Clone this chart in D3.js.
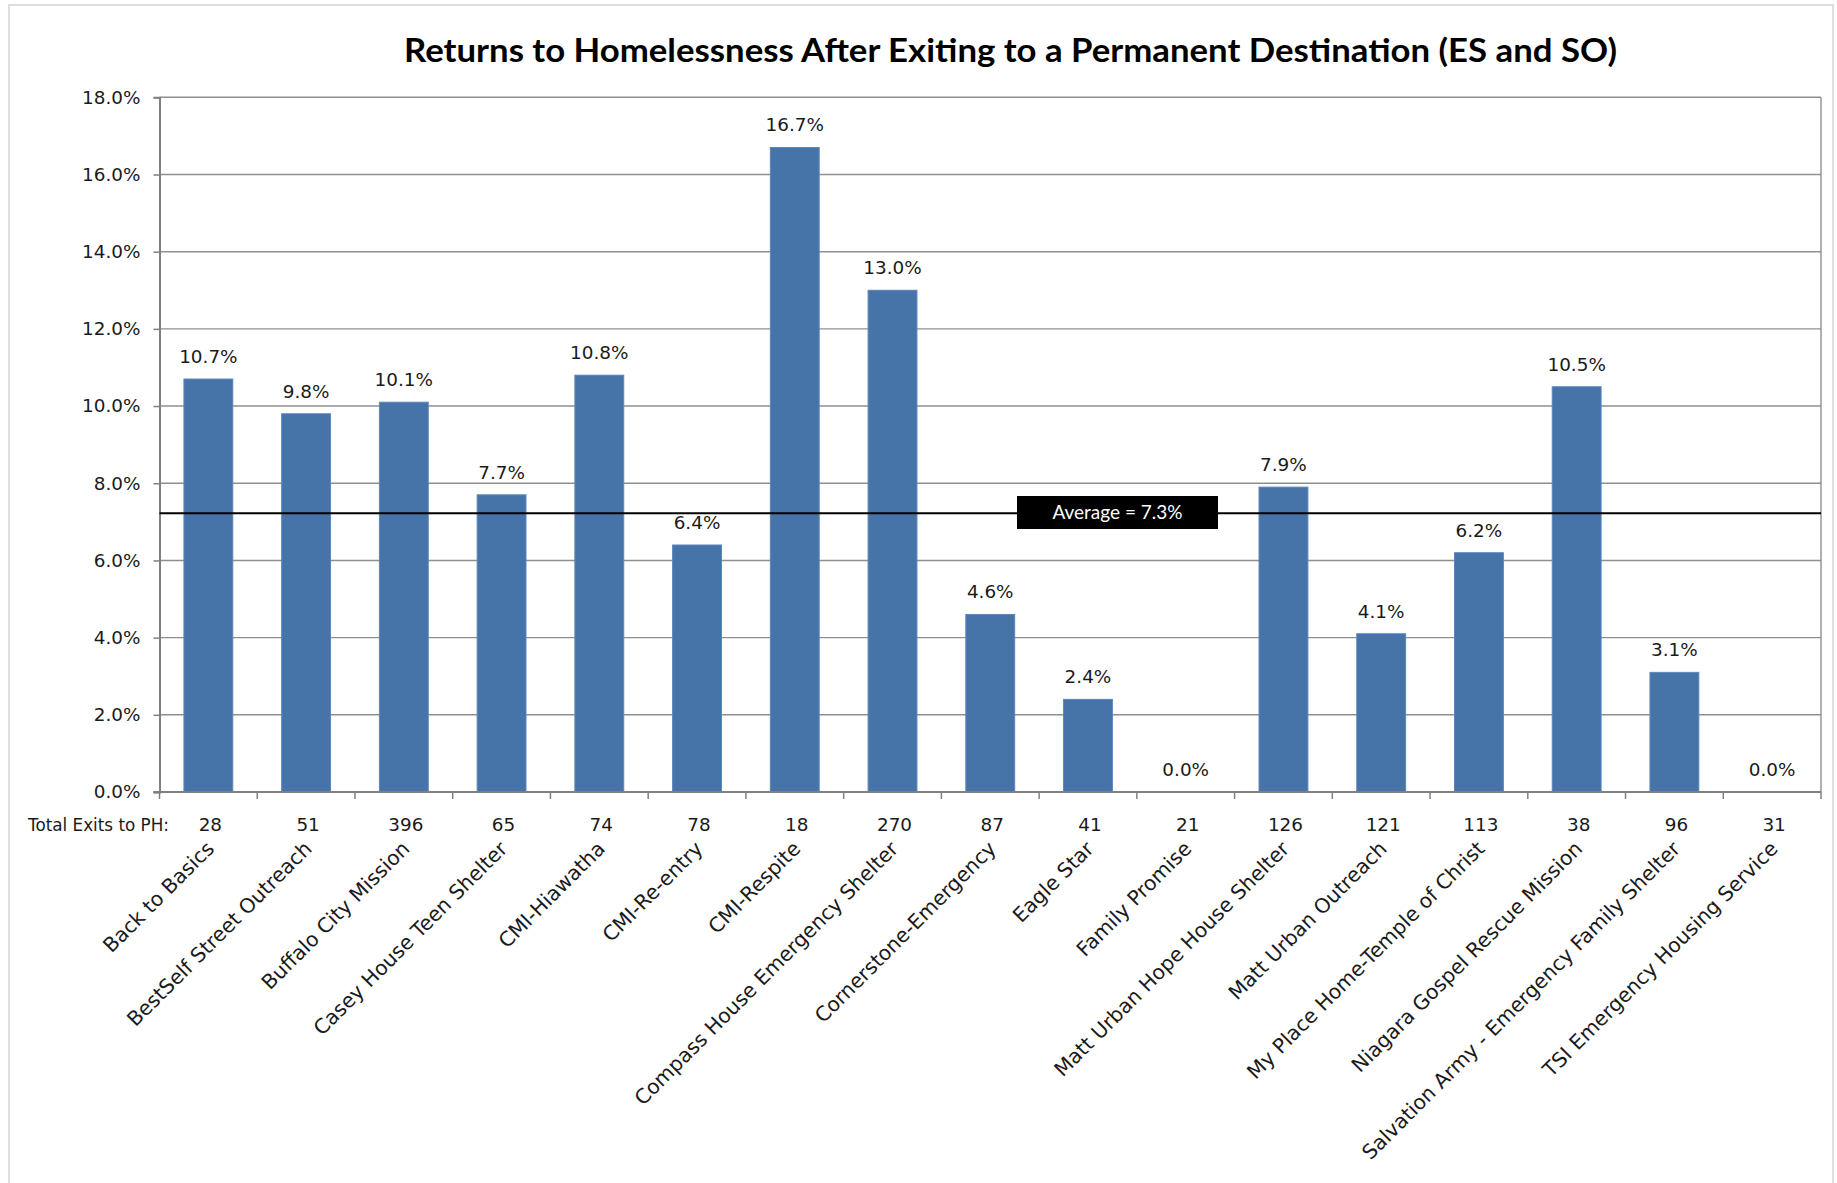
<!DOCTYPE html>
<html>
<head>
<meta charset="utf-8">
<script src="https://cdn.jsdelivr.net/npm/d3@7"></script>
<style>
  html, body { margin: 0; padding: 0; background: #ffffff; }
  svg { display: block; }
</style>
</head>
<body>
<svg id="chart" width="1837" height="1183"></svg>
<script>
// ---- data ----
const categories = [
  "Back to Basics", "BestSelf Street Outreach", "Buffalo City Mission",
  "Casey House Teen Shelter", "CMI-Hiawatha", "CMI-Re-entry", "CMI-Respite",
  "Compass House Emergency Shelter", "Cornerstone-Emergency", "Eagle Star",
  "Family Promise", "Matt Urban Hope House Shelter", "Matt Urban Outreach",
  "My Place Home-Temple of Christ", "Niagara Gospel Rescue Mission",
  "Salvation Army - Emergency Family Shelter", "TSI Emergency Housing Service"
];
const returnRates = [10.7, 9.8, 10.1, 7.7, 10.8, 6.4, 16.7, 13.0, 4.6, 2.4, 0.0, 7.9, 4.1, 6.2, 10.5, 3.1, 0.0];
const totalExits = [28, 51, 396, 65, 74, 78, 18, 270, 87, 41, 21, 126, 121, 113, 38, 96, 31];
const yTicks = [0, 2, 4, 6, 8, 10, 12, 14, 16, 18];
const averageLineValue = 7.22;
const averageLabel = "Average = 7.3%";
const exitsLabel = "Total Exits to PH:";
const title = "Returns to Homelessness After Exiting to a Permanent Destination (ES and SO)";

// ---- layout ----
const plot = { left: 159.5, right: 1821, top: 97.3, bottom: 792 };
const svg = d3.select("#chart");
const numFont = "'DejaVu Sans', sans-serif";

// outer chart border
svg.append("rect")
  .attr("x", 9).attr("y", 5).attr("width", 1824).attr("height", 1200)
  .attr("fill", "#ffffff").attr("stroke", "#dedede").attr("stroke-width", 2);

const x = d3.scaleBand()
  .domain(categories)
  .range([plot.left, plot.right])
  .paddingInner(0.5).paddingOuter(0.25);

const y = d3.scaleLinear().domain([0, 18]).range([plot.bottom, plot.top]);

// gridlines
svg.append("g").selectAll("line").data(yTicks.filter(d => d > 0)).join("line")
  .attr("x1", plot.left).attr("x2", plot.right)
  .attr("y1", d => y(d)).attr("y2", d => y(d))
  .attr("stroke", "#8f8f8f").attr("stroke-width", 1.4);

// right border of plot
svg.append("line")
  .attr("x1", plot.right).attr("x2", plot.right)
  .attr("y1", plot.top).attr("y2", plot.bottom)
  .attr("stroke", "#8f8f8f").attr("stroke-width", 1.4);

// y axis
const yAxis = d3.axisLeft(y).tickValues(yTicks)
  .tickFormat(d => d.toFixed(1) + "%")
  .tickSize(6).tickPadding(13);
const gy = svg.append("g").attr("transform", `translate(${plot.left},0)`).call(yAxis);
gy.select(".domain").attr("stroke", "#808080").attr("stroke-width", 2);
gy.selectAll(".tick line").attr("stroke", "#808080").attr("stroke-width", 1.5);
gy.selectAll(".tick text")
  .attr("font-family", numFont).attr("font-size", 18.4).attr("fill", "#1a1a1a");

// bars
svg.append("g").selectAll("rect").data(categories).join("rect")
  .attr("x", d => x(d))
  .attr("y", (d, i) => y(returnRates[i]))
  .attr("width", x.bandwidth())
  .attr("height", (d, i) => y(0) - y(returnRates[i]))
  .attr("fill", "#4673a8")
  .attr("stroke", "#5a87bb").attr("stroke-width", 1);

// data labels
svg.append("g").selectAll("text").data(categories).join("text")
  .attr("x", d => x(d) + x.bandwidth() / 2)
  .attr("y", (d, i) => y(returnRates[i]) - 16)
  .attr("text-anchor", "middle")
  .attr("font-family", numFont).attr("font-size", 18.4).attr("fill", "#1a1a1a")
  .text((d, i) => returnRates[i].toFixed(1) + "%");

// x axis line + boundary ticks
const step = x.step();
const boundaries = d3.range(categories.length + 1).map(i => plot.left + i * step);
svg.append("line")
  .attr("x1", plot.left - 6).attr("x2", plot.right)
  .attr("y1", plot.bottom).attr("y2", plot.bottom)
  .attr("stroke", "#808080").attr("stroke-width", 2);
svg.append("g").selectAll("line").data(boundaries).join("line")
  .attr("x1", d => d).attr("x2", d => d)
  .attr("y1", plot.bottom).attr("y2", plot.bottom + 7)
  .attr("stroke", "#808080").attr("stroke-width", 1.5);

// average line
svg.append("line")
  .attr("x1", plot.left).attr("x2", plot.right)
  .attr("y1", y(averageLineValue)).attr("y2", y(averageLineValue))
  .attr("stroke", "#000000").attr("stroke-width", 2);

// average label box
const avgG = svg.append("g");
avgG.append("rect")
  .attr("x", 1017).attr("y", 496).attr("width", 201).attr("height", 33)
  .attr("fill", "#000000");
avgG.append("text")
  .attr("x", 1117.5).attr("y", 519)
  .attr("text-anchor", "middle")
  .attr("font-family", "Lato, 'Open Sans', sans-serif").attr("font-size", 19)
  .attr("fill", "#ffffff")
  .text(averageLabel);

// total exits row
svg.append("text")
  .attr("x", 28).attr("y", 831)
  .attr("font-family", numFont).attr("font-size", 16.8).attr("fill", "#1a1a1a")
  .text(exitsLabel);
svg.append("g").selectAll("text").data(categories).join("text")
  .attr("x", d => x(d) + x.bandwidth() / 2 + 2)
  .attr("y", 831)
  .attr("text-anchor", "middle")
  .attr("font-family", numFont).attr("font-size", 18.4).attr("fill", "#1a1a1a")
  .text((d, i) => totalExits[i]);

// category labels (rotated)
svg.append("g").selectAll("text").data(categories).join("text")
  .attr("transform", d => `translate(${x(d) + x.bandwidth() / 2 + 7},${850}) rotate(-45)`)
  .attr("text-anchor", "end")
  .attr("font-family", numFont).attr("font-size", 20.3).attr("fill", "#1a1a1a")
  .text(d => d);

// title
svg.append("text")
  .attr("x", 404).attr("y", 61.7)
  .attr("font-family", "Lato, 'Open Sans', sans-serif").attr("font-weight", 700)
  .attr("font-size", 32).attr("fill", "#000000")
  .attr("textLength", 1213).attr("lengthAdjust", "spacingAndGlyphs")
  .text(title);
</script>
</body>
</html>
